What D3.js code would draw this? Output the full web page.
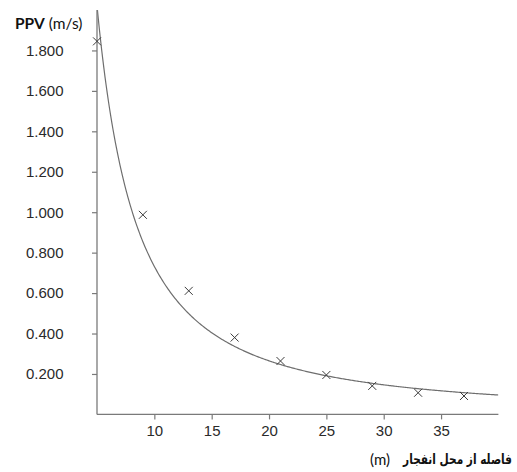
<!DOCTYPE html>
<html>
<head>
<meta charset="utf-8">
<script src="https://cdn.jsdelivr.net/npm/d3@7"></script>
<style>
  html, body { margin: 0; padding: 0; background: #fff; }
  svg { display: block; }
</style>
</head>
<body>
<div id="chart"></div>
<script>
// Measured peak particle velocity versus distance from the blast
const distances = [5, 9, 13, 17, 21, 25, 29, 33, 37];
const ppvValues = [1.845, 0.987, 0.611, 0.380, 0.264, 0.195, 0.141, 0.107, 0.091];

// Attenuation fit PPV = k * d^(-beta)
const fitK = 21.4;
const fitBeta = 1.466;

const xTicks = [10, 15, 20, 25, 30, 35];
const yTicks = [0.2, 0.4, 0.6, 0.8, 1.0, 1.2, 1.4, 1.6, 1.8];
const xDomain = [5, 40];
const yDomain = [0, 2];

const yTitleBold = "PPV";
const yTitleUnit = "(m/s)";
const xTitle = "فاصله از محل انفجار";
const xTitleUnit = "(m)";

const W = 517, H = 472;
const plotLeft = 97, plotRight = 498.4, plotTop = 10, plotBottom = 414.4;

const svg = d3.select("#chart").append("svg")
  .attr("width", W).attr("height", H);

const x = d3.scaleLinear().domain(xDomain).range([plotLeft, plotRight]);
const y = d3.scaleLinear().domain(yDomain).range([plotBottom, plotTop]);

const axisColor = "#7a7a7a";
const labelColor = "#2a2a2a";

svg.append("defs").append("clipPath").attr("id", "plot-clip")
  .append("rect").attr("x", plotLeft).attr("y", plotTop)
  .attr("width", plotRight - plotLeft).attr("height", plotBottom - plotTop);

// Fitted curve
const curveXs = d3.range(xDomain[0], xDomain[1] + 0.001, 0.1);
svg.append("path")
  .attr("clip-path", "url(#plot-clip)")
  .attr("fill", "none")
  .attr("stroke", "#6e6e6e")
  .attr("stroke-width", 1.2)
  .attr("d", d3.line()
    .x(d => x(d))
    .y(d => y(fitK * Math.pow(d, -fitBeta)))(curveXs));

// Axes
const xAxis = svg.append("g")
  .attr("transform", `translate(0,${plotBottom})`)
  .call(d3.axisBottom(x).tickValues(xTicks).tickSize(5).tickPadding(6)
    .tickFormat(d3.format("d")));
const yAxis = svg.append("g")
  .attr("transform", `translate(${plotLeft},0)`)
  .call(d3.axisLeft(y).tickValues(yTicks).tickSize(5).tickPadding(30)
    .tickFormat(d3.format(".3f")));

[xAxis, yAxis].forEach(g => {
  g.select(".domain").attr("stroke", axisColor).attr("stroke-width", 1.3);
  g.selectAll(".tick line").attr("stroke", axisColor).attr("stroke-width", 1.2);
  g.selectAll(".tick text")
    .attr("fill", labelColor)
    .style("font-family", "'Liberation Sans', Arial, sans-serif")
    .style("font-size", "15px");
});
// plain axis lines spanning the full plot area
xAxis.select(".domain").attr("d", `M${plotLeft},0H${plotRight}`);
yAxis.select(".domain").attr("d", `M0,${plotTop}V${plotBottom}`);
// right-align y labels at a fixed edge
yAxis.selectAll(".tick text").attr("x", -(plotLeft - 63.5)).attr("text-anchor", "end");

// Data markers (crosses)
const s = 4;
svg.append("g").selectAll("path")
  .data(distances.map((d, i) => [d, ppvValues[i]]))
  .join("path")
  .attr("fill", "none")
  .attr("stroke", "#3c3c3c")
  .attr("stroke-width", 1)
  .attr("d", d => {
    const cx = x(d[0]), cy = y(d[1]);
    return `M${cx - s},${cy - s}L${cx + s},${cy + s}M${cx - s},${cy + s}L${cx + s},${cy - s}`;
  });

// Y axis title
const yt = svg.append("text")
  .attr("x", 15).attr("y", 29)
  .attr("fill", "#111")
  .style("font-family", "Lato, 'Open Sans', sans-serif")
  .style("font-size", "15.5px");
yt.append("tspan").attr("font-weight", "bold").text(yTitleBold);
yt.append("tspan").attr("dx", 4).text(yTitleUnit);

// X axis title: Persian caption, horizontally condensed to fit the corner
const xtWidth = 109;
const xt = svg.append("text")
  .attr("text-anchor", "end")
  .attr("fill", "#111")
  .style("font-family", "'DejaVu Sans', sans-serif")
  .style("font-weight", "bold")
  .style("font-size", "14px")
  .text(xTitle);
const natural = xt.node().getComputedTextLength();
xt.attr("transform", `translate(512,464) scale(${xtWidth / natural},1)`);

svg.append("text")
  .attr("x", 370).attr("y", 465)
  .attr("fill", "#111")
  .style("font-family", "Lato, 'Open Sans', sans-serif")
  .style("font-size", "15px")
  .text(xTitleUnit);
</script>
</body>
</html>
